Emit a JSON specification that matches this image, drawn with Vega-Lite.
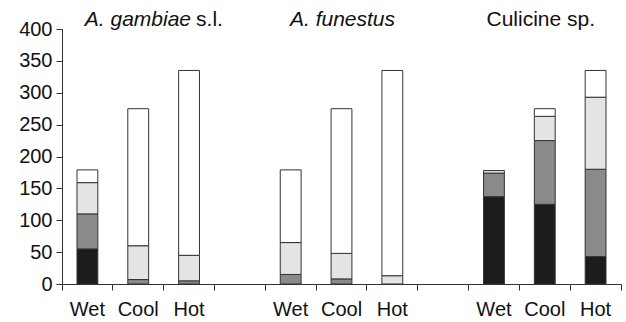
{
  "$schema": "https://vega.github.io/schema/vega-lite/v6.json",
  "autosize": "none",
  "width": 559,
  "height": 255,
  "padding": {"left": 62, "top": 29, "right": 5, "bottom": 38},
  "background": "white",
  "config": {
    "view": {"stroke": null},
    "font": "Liberation Sans",
    "axis": {"labelFont": "Liberation Sans", "labelColor": "#111", "domainColor": "#333", "tickColor": "#333", "grid": false},
    "axisY": {"values": [0, 50, 100, 150, 200, 250, 300, 350, 400], "labelOverlap": false, "tickSize": 6, "labelFontSize": 20, "labelPadding": 4, "title": null}
  },
  "resolve": {"axis": {"x": "independent"}},
  "datasets": {
    "bars": [
      {"slot": "G-Wet", "part": "Black", "k": 1, "n": 55},
      {"slot": "G-Wet", "part": "Hatched", "k": 2, "n": 55},
      {"slot": "G-Wet", "part": "Dotted", "k": 3, "n": 49},
      {"slot": "G-Wet", "part": "Open", "k": 4, "n": 20},
      {"slot": "G-Cool", "part": "Hatched", "k": 2, "n": 7},
      {"slot": "G-Cool", "part": "Dotted", "k": 3, "n": 53},
      {"slot": "G-Cool", "part": "Open", "k": 4, "n": 215},
      {"slot": "G-Hot", "part": "Hatched", "k": 2, "n": 5},
      {"slot": "G-Hot", "part": "Dotted", "k": 3, "n": 40},
      {"slot": "G-Hot", "part": "Open", "k": 4, "n": 290},
      {"slot": "F-Wet", "part": "Hatched", "k": 2, "n": 15},
      {"slot": "F-Wet", "part": "Dotted", "k": 3, "n": 50},
      {"slot": "F-Wet", "part": "Open", "k": 4, "n": 114},
      {"slot": "F-Cool", "part": "Hatched", "k": 2, "n": 8},
      {"slot": "F-Cool", "part": "Dotted", "k": 3, "n": 40},
      {"slot": "F-Cool", "part": "Open", "k": 4, "n": 227},
      {"slot": "F-Hot", "part": "Dotted", "k": 3, "n": 13},
      {"slot": "F-Hot", "part": "Open", "k": 4, "n": 322},
      {"slot": "C-Wet", "part": "Black", "k": 1, "n": 137},
      {"slot": "C-Wet", "part": "Hatched", "k": 2, "n": 37},
      {"slot": "C-Wet", "part": "Dotted", "k": 3, "n": 4},
      {"slot": "C-Cool", "part": "Black", "k": 1, "n": 125},
      {"slot": "C-Cool", "part": "Hatched", "k": 2, "n": 100},
      {"slot": "C-Cool", "part": "Dotted", "k": 3, "n": 38},
      {"slot": "C-Cool", "part": "Open", "k": 4, "n": 12},
      {"slot": "C-Hot", "part": "Black", "k": 1, "n": 43},
      {"slot": "C-Hot", "part": "Hatched", "k": 2, "n": 137},
      {"slot": "C-Hot", "part": "Dotted", "k": 3, "n": 113},
      {"slot": "C-Hot", "part": "Open", "k": 4, "n": 42}
    ]
  },
  "layer": [
    {
      "data": {"name": "bars"},
      "mark": {"type": "bar", "width": {"band": 0.41}, "stroke": "#333", "strokeWidth": 1},
      "encoding": {
        "x": {
          "field": "slot",
          "type": "nominal",
          "scale": {
            "domain": ["G-Wet", "G-Cool", "G-Hot", "gap1", "F-Wet", "F-Cool", "F-Hot", "gap2", "C-Wet", "C-Cool", "C-Hot"],
            "paddingInner": 0,
            "paddingOuter": 0
          },
          "axis": {
            "title": null,
            "orient": "bottom",
            "labelAngle": 0,
            "tickSize": 6,
            "tickOpacity": 0,
            "labelFontSize": 20,
            "labelPadding": 9,
            "labelExpr": "indexof(datum.value, '-') >= 0 ? split(datum.value, '-')[1] : ''"
          }
        },
        "y": {
          "field": "n",
          "type": "quantitative",
          "stack": "zero",
          "scale": {"domain": [0, 400], "nice": false},
          "axis": {"title": null, "values": [0, 50, 100, 150, 200, 250, 300, 350, 400], "labelOverlap": false, "tickSize": 6, "labelFontSize": 20, "labelPadding": 4}
        },
        "fill": {
          "field": "part",
          "type": "nominal",
          "scale": {"domain": ["Black", "Hatched", "Dotted", "Open"], "range": ["#1c1c1c", "#8a8a8a", "#e4e4e4", "#ffffff"]},
          "legend": null
        },
        "order": {"field": "k", "type": "quantitative"}
      }
    },
    {
      "data": {"values": [{"slot": "G-Hot", "label": "A. gambiae", "top": 400}]},
      "mark": {"type": "text", "fontSize": 21, "fontStyle": "italic", "align": "right", "baseline": "alphabetic", "dy": -3, "dx": 2, "color": "#111"},
      "encoding": {
        "x": {"field": "slot", "type": "nominal", "axis": {"title": null, "orient": "bottom", "labels": false, "domain": false, "ticks": true, "tickSize": 6, "bandPosition": 0}},
        "y": {"field": "top", "type": "quantitative", "axis": {"title": null, "values": [0, 50, 100, 150, 200, 250, 300, 350, 400], "labelOverlap": false, "tickSize": 6, "labelFontSize": 20, "labelPadding": 4}},
        "text": {"field": "label"}
      }
    },
    {
      "data": {"values": [{"slot": "G-Hot", "label": "s.l.", "top": 400}]},
      "mark": {"type": "text", "fontSize": 21, "align": "left", "baseline": "alphabetic", "dy": -3, "dx": 7, "color": "#111"},
      "encoding": {
        "x": {"field": "slot", "type": "nominal", "axis": {"title": null, "orient": "bottom", "labels": false, "domain": false, "ticks": true, "tickSize": 6, "bandPosition": 1, "values": ["C-Hot"]}},
        "y": {"field": "top", "type": "quantitative", "axis": {"title": null, "values": [0, 50, 100, 150, 200, 250, 300, 350, 400], "labelOverlap": false, "tickSize": 6, "labelFontSize": 20, "labelPadding": 4}},
        "text": {"field": "label"}
      }
    },
    {
      "data": {"values": [{"slot": "F-Cool", "label": "A. funestus", "top": 400}]},
      "mark": {"type": "text", "fontSize": 21, "fontStyle": "italic", "align": "center", "baseline": "alphabetic", "dy": -3, "dx": 1, "color": "#111"},
      "encoding": {
        "x": {"field": "slot", "type": "nominal", "axis": null},
        "y": {"field": "top", "type": "quantitative", "axis": {"title": null, "values": [0, 50, 100, 150, 200, 250, 300, 350, 400], "labelOverlap": false, "tickSize": 6, "labelFontSize": 20, "labelPadding": 4}},
        "text": {"field": "label"}
      }
    },
    {
      "data": {"values": [{"slot": "C-Cool", "label": "Culicine sp.", "top": 400}]},
      "mark": {"type": "text", "fontSize": 21, "align": "center", "baseline": "alphabetic", "dy": -3, "dx": -4, "color": "#111"},
      "encoding": {
        "x": {"field": "slot", "type": "nominal", "axis": null},
        "y": {"field": "top", "type": "quantitative", "axis": {"title": null, "values": [0, 50, 100, 150, 200, 250, 300, 350, 400], "labelOverlap": false, "tickSize": 6, "labelFontSize": 20, "labelPadding": 4}},
        "text": {"field": "label"}
      }
    }
  ]
}
